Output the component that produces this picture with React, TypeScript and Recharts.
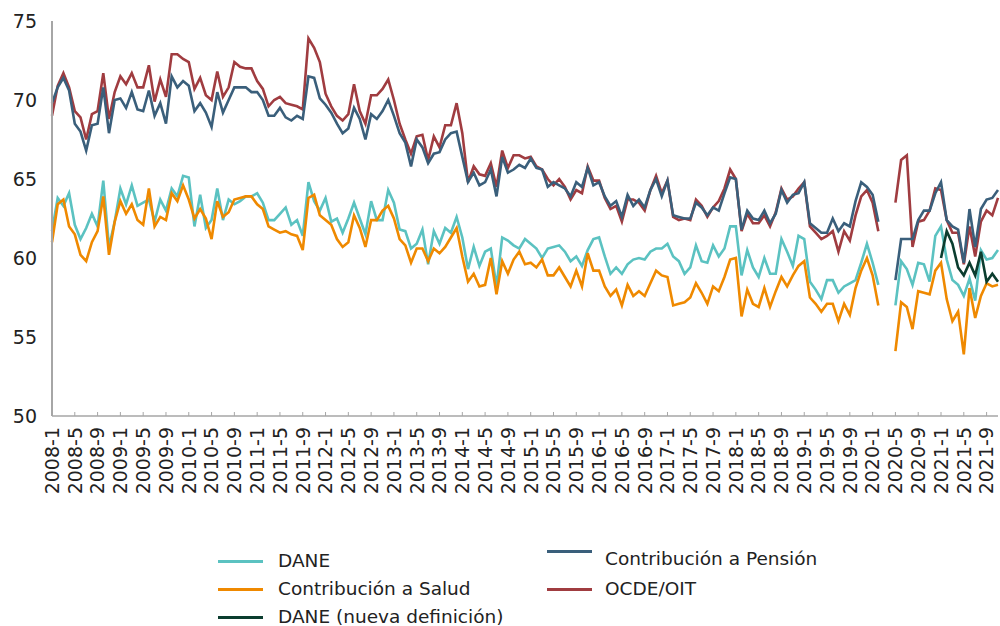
import React from "react";
import { LineChart, Line, XAxis, YAxis } from "recharts";

// monthly labels 2008-1 .. 2021-11
const months: string[] = [];
for (let y = 2008; y <= 2021; y++) {
  for (let m = 1; m <= 12; m++) months.push(`${y}-${m}`);
}
months.splice(167);

const dane = [
  61.7, 63.8, 63.3, 64.1, 62.1, 61.2, 61.9, 62.8, 62.0, 64.9,
  60.7, 62.3, 64.4, 63.4, 64.6, 63.3, 63.5, 63.7, 62.3, 63.7,
  63.0, 64.4, 63.9, 65.2, 65.1, 62.0, 64.0, 61.9, 62.4, 64.4,
  62.4, 63.7, 63.4, 63.6, 63.9, 63.9, 64.1, 63.5, 62.4, 62.4,
  62.8, 63.2, 62.1, 62.4, 61.4, 64.8, 63.6, 63.0, 63.8, 62.3,
  62.5, 61.6, 62.5, 63.5, 62.5, 61.5, 63.6, 62.4, 62.4, 64.3,
  63.5, 61.8, 61.7, 60.6, 60.9, 61.8, 59.6, 61.7, 60.9, 61.9,
  61.6, 62.6, 61.3, 59.3, 60.7, 59.5, 60.4, 60.6, 58.2, 61.3,
  61.1, 60.8, 60.6, 61.2, 60.9, 60.6, 60.0, 60.6, 60.7, 60.8,
  60.4, 59.8, 60.1, 59.5, 60.5, 61.2, 61.3, 60.1, 59.0, 59.4,
  59.0, 59.6, 59.9, 60.0, 59.9, 60.4, 60.6, 60.6, 60.9, 60.1,
  59.8, 59.0, 59.4, 60.8, 59.8, 59.7, 60.8, 60.1, 60.6, 62.0,
  62.0, 58.9, 60.5, 59.4, 58.8, 60.0, 59.0, 59.0, 61.2, 60.4,
  59.5, 61.4, 61.2, 58.5, 58.0, 57.4, 58.6, 58.6, 57.8, 58.2,
  58.4, 58.6, 59.7, 60.9, 59.7, 58.3, null, null, 57.0, 59.8,
  59.3, 58.3, 59.7, 59.6, 58.5, 61.4, 62.0, 59.9, 58.6, 58.3,
  57.6, 58.7, 57.3, 60.5, 59.9, 60.0, 60.5,
];

const pension = [
  69.8, 70.8, 71.4, 70.6, 68.5, 68.0, 66.8, 68.4, 68.5, 70.8,
  67.9, 70.0, 70.1, 69.5, 70.5, 69.4, 69.3, 70.6, 69.0, 69.8,
  68.5, 71.5, 70.8, 71.2, 70.9, 69.3, 69.8, 69.2, 68.3, 70.5,
  69.2, 70.0, 70.8, 70.8, 70.8, 70.5, 70.5, 70.0, 69.0, 69.0,
  69.5, 68.9, 68.7, 69.0, 68.8, 71.5, 71.4, 70.1, 69.7, 69.2,
  68.5, 67.9, 68.2, 69.5, 68.8, 67.5, 69.1, 68.8, 69.3, 70.0,
  69.0, 67.9, 67.3, 65.8, 67.5, 67.0, 66.0, 66.6, 66.7, 67.5,
  67.9, 68.0, 66.4, 64.8, 65.4, 64.6, 64.8, 65.6, 63.9, 66.4,
  65.4, 65.6, 65.9, 65.7, 66.3, 65.7, 65.6, 64.5, 64.8, 64.6,
  64.4, 63.9, 64.8, 64.5, 65.7, 64.6, 64.8, 63.9, 63.3, 63.6,
  62.6, 64.0, 63.3, 63.7, 63.2, 64.3, 65.0, 63.9, 64.9, 62.7,
  62.6, 62.5, 62.5, 63.5, 63.2, 62.7, 63.2, 63.0, 64.1, 65.1,
  65.0, 61.8, 63.0, 62.5, 62.4, 63.0, 62.2, 62.8, 64.3, 63.5,
  64.0, 64.1, 64.8, 62.2, 61.9, 61.6, 61.6, 62.5, 61.7, 62.2,
  62.0, 63.6, 64.8, 64.5, 64.0, 62.3, null, null, 58.6, 61.2,
  61.2, 61.2, 62.4, 63.0, 63.0, 64.1, 64.8, 62.4, 62.0, 61.8,
  59.7, 63.1, 60.7, 63.1, 63.7, 63.8, 64.3,
];

const salud = [
  61.0, 63.4, 63.7, 62.0, 61.5, 60.2, 59.8, 61.0, 61.7, 63.9,
  60.2, 62.3, 63.6, 62.8, 63.4, 62.4, 62.1, 64.4, 62.0, 62.6,
  62.4, 64.1, 63.6, 64.6, 63.7, 62.5, 63.1, 62.5, 61.2, 63.6,
  62.6, 62.9, 63.7, 63.8, 63.9, 63.9, 63.4, 63.1, 62.0, 61.8,
  61.6, 61.7, 61.5, 61.4, 60.5, 63.8, 64.0, 62.7, 62.4, 62.1,
  61.2, 60.7, 61.0, 62.7, 61.9, 60.7, 62.4, 62.4, 63.0, 63.3,
  62.5, 61.2, 60.8, 59.7, 60.6, 60.6, 59.8, 60.6, 60.3, 60.7,
  61.3, 61.9, 60.1, 58.5, 59.0, 58.2, 58.3, 60.0, 57.7, 59.8,
  59.0, 59.9, 60.4, 59.6, 59.7, 59.4, 59.9, 58.9, 58.9, 59.4,
  58.8, 58.2, 59.2, 58.2, 60.3, 59.2, 59.2, 58.2, 57.6, 58.0,
  57.0, 58.3, 57.6, 57.9, 57.6, 58.4, 59.2, 58.9, 58.8, 57.0,
  57.1, 57.2, 57.5, 58.4, 57.8, 57.1, 58.2, 57.9, 58.8, 59.9,
  60.0, 56.3, 58.0, 57.1, 56.9, 58.1, 56.9, 57.9, 58.8, 58.2,
  58.9, 59.5, 59.8, 57.5, 57.1, 56.6, 57.1, 57.1, 56.0, 57.1,
  56.4, 58.1, 59.2, 60.0, 58.9, 57.0, null, null, 54.1, 57.2,
  56.9, 55.5, 57.9, 57.8, 57.7, 59.2, 59.7, 57.4, 56.0, 56.6,
  53.9, 58.1, 56.2, 57.6, 58.4, 58.2, 58.3,
];

const ocde = [
  69.0, 70.9, 71.7, 70.8, 69.3, 68.9, 67.5, 69.1, 69.3, 71.7,
  68.8, 70.5, 71.5, 71.0, 71.7, 70.8, 70.8, 72.2, 69.9, 71.3,
  70.2, 72.9, 72.9, 72.6, 72.4, 70.7, 71.4, 70.3, 70.0, 71.8,
  70.2, 70.8, 72.4, 72.1, 72.0, 72.0, 71.2, 70.7, 69.6, 70.0,
  70.2, 69.8, 69.7, 69.6, 69.4, 73.9, 73.3, 72.4, 70.4, 69.6,
  69.0, 68.7, 69.1, 71.0, 69.3, 68.5, 70.3, 70.3, 70.7, 71.3,
  70.0, 68.5, 67.5, 66.6, 67.7, 67.8, 66.2, 67.7, 67.0, 68.4,
  68.4, 69.8, 67.9, 64.8, 65.8, 65.3, 65.2, 66.0, 64.5, 66.8,
  65.7, 66.5, 66.5, 66.3, 66.4, 65.8, 65.6, 65.0, 64.6, 65.0,
  64.5, 63.7, 64.3, 64.1, 65.8, 64.9, 64.9, 63.8, 63.1, 63.3,
  62.3, 63.7, 63.7, 63.5, 63.0, 64.3, 65.2, 64.1, 64.9, 62.6,
  62.4, 62.5, 62.4, 63.7, 63.3, 62.6, 63.2, 63.6, 64.4, 65.6,
  65.0, 61.7, 62.8, 62.2, 62.2, 62.7, 62.0, 62.9, 64.4, 63.7,
  63.9, 64.4, 64.8, 62.0, 61.6, 61.2, 61.4, 61.7, 60.4, 61.7,
  61.1, 62.7, 63.9, 64.3, 63.5, 61.7, null, null, 63.5, 66.2,
  66.5, 60.7, 62.3, 62.4, 63.0, 64.4, 64.3, 62.4, 61.6, 61.6,
  59.6, 62.0, 60.1, 62.3, 63.0, 62.7, 63.8,
];

// new DANE definition, starting 2021-1
const daneNuevaFrom = "2021-1";
const daneNueva = [60.0, 61.7, 60.9, 59.4, 58.9, 59.7, 58.9, 60.4, 58.5, 59.0, 58.5];

const yTicks = [50, 55, 60, 65, 70, 75];

const C_DANE = "#5bc2c1";
const C_PENSION = "#3a5f7b";
const C_SALUD = "#ef8900";
const C_OCDE = "#a03c40";
const C_NUEVA = "#0b3d2f";
const AXIS = "#a6a6a6";
const FONT = "'DejaVu Sans', sans-serif";

const nuevaIdx = months.indexOf(daneNuevaFrom);
const data = months.map((m, i) => ({
  m,
  dane: dane[i],
  pension: pension[i],
  salud: salud[i],
  ocde: ocde[i],
  nueva: i >= nuevaIdx ? daneNueva[i - nuevaIdx] ?? null : null,
}));

const MonthTick = (props: any) => {
  const { x, y, payload } = props;
  return (
    <g>
      <line x1={x} x2={x} y1={y - 4} y2={y} stroke={AXIS} strokeWidth={1} />
      <text
        transform={`translate(${x},${y + 11}) rotate(-90)`}
        textAnchor="end"
        dy="0.36em"
        fontSize={19}
        fontFamily={FONT}
        fill="#222"
      >
        {payload.value}
      </text>
    </g>
  );
};

const legendLeft = [
  { name: "DANE", color: C_DANE, y: 561 },
  { name: "Contribución a Salud", color: C_SALUD, y: 589 },
  { name: "DANE (nueva definición)", color: C_NUEVA, y: 617 },
];
const legendRight = [
  { name: "Contribución a Pensión", color: C_PENSION, y: 559, lineY: 551 },
  { name: "OCDE/OIT", color: C_OCDE, y: 589, lineY: 589 },
];

export default function App() {
  return (
    <div
      style={{
        position: "absolute",
        left: 0,
        top: 0,
        width: 1000,
        height: 626,
        background: "#fff",
        overflow: "hidden",
      }}
    >
      <LineChart
        width={1000}
        height={626}
        data={data}
        margin={{ top: 21, right: 2, bottom: 0, left: 0 }}
      >
        <XAxis
          dataKey="m"
          interval={3}
          tick={<MonthTick />}
          tickLine={false}
          tickSize={0}
          tickMargin={0}
          height={210}
          stroke={AXIS}
          strokeWidth={1.5}
        />
        <YAxis
          domain={[50, 75]}
          ticks={yTicks}
          width={52}
          tickLine={false}
          tickSize={0}
          tickMargin={15}
          stroke={AXIS}
          strokeWidth={2}
          tick={{ fontSize: 19, fontFamily: FONT, fill: "#222" }}
        />
        <Line dataKey="ocde" stroke={C_OCDE} strokeWidth={2.6} dot={false} isAnimationActive={false} />
        <Line dataKey="pension" stroke={C_PENSION} strokeWidth={2.6} dot={false} isAnimationActive={false} />
        <Line dataKey="dane" stroke={C_DANE} strokeWidth={2.6} dot={false} isAnimationActive={false} />
        <Line dataKey="salud" stroke={C_SALUD} strokeWidth={2.6} dot={false} isAnimationActive={false} />
        <Line dataKey="nueva" stroke={C_NUEVA} strokeWidth={2.6} dot={false} isAnimationActive={false} />
      </LineChart>

      {legendLeft.map((it) => (
        <div key={it.name}>
          <div style={{ position: "absolute", left: 218, width: 45, top: it.y - 1.5, height: 3, background: it.color }} />
          <div
            style={{
              position: "absolute",
              left: 278,
              top: it.y - 12,
              height: 24,
              lineHeight: "24px",
              fontSize: 18.5,
              fontFamily: FONT,
              color: "#222",
              whiteSpace: "nowrap",
            }}
          >
            {it.name}
          </div>
        </div>
      ))}
      {legendRight.map((it) => (
        <div key={it.name}>
          <div style={{ position: "absolute", left: 547, width: 45, top: it.lineY - 1.5, height: 3, background: it.color }} />
          <div
            style={{
              position: "absolute",
              left: 605,
              top: it.y - 12,
              height: 24,
              lineHeight: "24px",
              fontSize: 18.5,
              fontFamily: FONT,
              color: "#222",
              whiteSpace: "nowrap",
            }}
          >
            {it.name}
          </div>
        </div>
      ))}
    </div>
  );
}
